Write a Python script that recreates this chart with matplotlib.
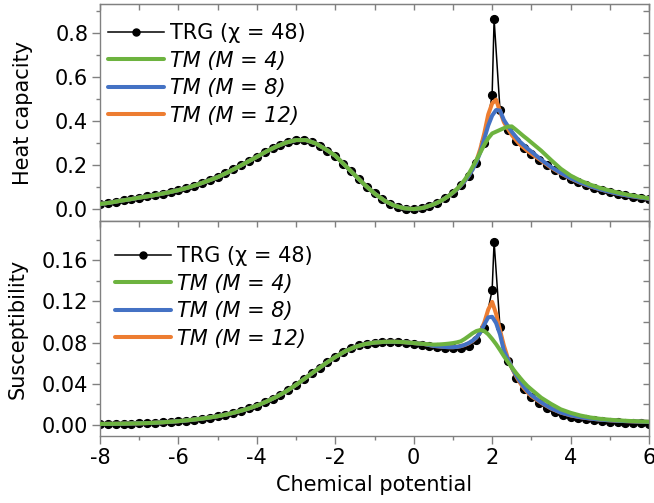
import matplotlib

matplotlib.use("Agg")
import matplotlib.pyplot as plt
from matplotlib.ticker import MultipleLocator, FormatStrFormatter

# TRG (chi = 48) samples
TRG_X = [
    -8.0, -7.8, -7.6, -7.4, -7.2, -7.0, -6.8, -6.6, -6.4, -6.2,
    -6.0, -5.8, -5.6, -5.4, -5.2, -5.0, -4.8, -4.6, -4.4, -4.2,
    -4.0, -3.8, -3.6, -3.4, -3.2, -3.0, -2.8, -2.6, -2.4, -2.2,
    -2.0, -1.8, -1.6, -1.4, -1.2, -1.0, -0.8, -0.6, -0.4, -0.2,
    0.0, 0.2, 0.4, 0.6, 0.8, 1.0, 1.2, 1.4, 1.6, 1.8,
    2.0, 2.05, 2.2, 2.4, 2.6, 2.8, 3.0, 3.2, 3.4, 3.6,
    3.8, 4.0, 4.2, 4.4, 4.6, 4.8, 5.0, 5.2, 5.4, 5.6,
    5.8, 6.0,
]
TRG_HEAT = [
    0.024, 0.029, 0.035, 0.041, 0.047, 0.053, 0.059, 0.065, 0.071, 0.078,
    0.087, 0.096, 0.107, 0.119, 0.132, 0.146, 0.163, 0.181, 0.200, 0.219,
    0.238, 0.258, 0.277, 0.293, 0.306, 0.314, 0.314, 0.305, 0.288, 0.266,
    0.242, 0.207, 0.172, 0.137, 0.103, 0.072, 0.045, 0.024, 0.010, 0.003,
    0.001, 0.005, 0.015, 0.030, 0.050, 0.075, 0.108, 0.150, 0.210, 0.300,
    0.520, 0.862, 0.452, 0.360, 0.312, 0.280, 0.252, 0.225, 0.200, 0.177,
    0.157, 0.139, 0.124, 0.110, 0.098, 0.088, 0.079, 0.071, 0.064, 0.058,
    0.053, 0.048,
]
TRG_SUSC = [
    0.0008, 0.0009, 0.0010, 0.0011, 0.0013, 0.0015, 0.0018, 0.0021, 0.0025, 0.0030,
    0.0036, 0.0043, 0.0051, 0.0061, 0.0072, 0.0085, 0.0100, 0.0118, 0.0138, 0.0161,
    0.0188, 0.0220, 0.0255, 0.0294, 0.0340, 0.0390, 0.0445, 0.0500, 0.0556, 0.0610,
    0.0660, 0.0710, 0.0745, 0.0772, 0.0790, 0.0800, 0.0806, 0.0808, 0.0806, 0.0800,
    0.0790, 0.0780, 0.0770, 0.0760, 0.0752, 0.0745, 0.0748, 0.0770, 0.0822, 0.0938,
    0.1310, 0.1780, 0.0950, 0.0620, 0.0460, 0.0350, 0.0270, 0.0210, 0.0165, 0.0128,
    0.0101, 0.0082, 0.0067, 0.0055, 0.0045, 0.0037, 0.0030, 0.0025, 0.0021, 0.0018,
    0.0015, 0.0013,
]

# TM curves: left part is common to all M, middle and right differ
TM_X_LEFT = [
    -8.0, -7.75, -7.5, -7.25, -7.0, -6.75, -6.5, -6.25, -6.0, -5.75,
    -5.5, -5.25, -5.0, -4.75, -4.5, -4.25, -4.0, -3.75, -3.5, -3.25,
    -3.0, -2.75, -2.5, -2.25, -2.0, -1.75, -1.5, -1.25, -1.0, -0.75,
    -0.5, -0.25, 0.0, 0.25,
]
TM_X_MID = [
    0.5, 0.6, 0.7, 0.8, 0.9, 1.0, 1.1, 1.2, 1.3, 1.4,
    1.5, 1.6, 1.7, 1.8, 1.9, 2.0, 2.1, 2.2, 2.3, 2.4,
    2.5, 2.6, 2.7, 2.8, 2.9, 3.0,
]
TM_X_RIGHT = [3.25, 3.5, 3.75, 4.0, 4.25, 4.5, 4.75, 5.0, 5.25, 5.5, 5.75, 6.0]

HEAT_LEFT = [
    0.024, 0.030, 0.038, 0.045, 0.053, 0.060, 0.068, 0.077, 0.087, 0.099,
    0.113, 0.129, 0.146, 0.167, 0.190, 0.214, 0.238, 0.263, 0.285, 0.303,
    0.314, 0.314, 0.299, 0.273, 0.243, 0.199, 0.155, 0.111, 0.072, 0.040,
    0.017, 0.005, 0.001, 0.007,
]
HEAT_MID_M4 = [
    0.022, 0.030, 0.039, 0.050, 0.062, 0.076, 0.092, 0.111, 0.134, 0.160,
    0.192, 0.224, 0.258, 0.292, 0.322, 0.344, 0.352, 0.360, 0.368, 0.375,
    0.376, 0.362, 0.347, 0.332, 0.318, 0.303,
]
HEAT_MID_M8 = [
    0.022, 0.030, 0.039, 0.050, 0.062, 0.075, 0.090, 0.108, 0.128, 0.152,
    0.180, 0.214, 0.260, 0.320, 0.380, 0.425, 0.450, 0.448, 0.405, 0.378,
    0.352, 0.330, 0.308, 0.292, 0.276, 0.262,
]
HEAT_MID_M12 = [
    0.022, 0.030, 0.039, 0.050, 0.062, 0.075, 0.090, 0.108, 0.128, 0.152,
    0.182, 0.220, 0.275, 0.345, 0.430, 0.480, 0.497, 0.445, 0.395, 0.365,
    0.337, 0.315, 0.295, 0.280, 0.265, 0.252,
]
HEAT_RIGHT_M4 = [0.266, 0.224, 0.184, 0.153, 0.130, 0.112, 0.097, 0.085, 0.074, 0.065, 0.057, 0.050]
HEAT_RIGHT_M8 = [0.225, 0.192, 0.165, 0.141, 0.121, 0.105, 0.091, 0.079, 0.069, 0.061, 0.054, 0.048]
HEAT_RIGHT_M12 = [0.221, 0.189, 0.163, 0.140, 0.120, 0.104, 0.091, 0.079, 0.069, 0.061, 0.054, 0.048]

SUSC_LEFT = [
    0.0010, 0.0011, 0.0012, 0.0014, 0.0016, 0.0019, 0.0024, 0.0030, 0.0037, 0.0046,
    0.0057, 0.0070, 0.0085, 0.0104, 0.0128, 0.0155, 0.0188, 0.0228, 0.0274, 0.0327,
    0.0390, 0.0459, 0.0528, 0.0597, 0.0660, 0.0715, 0.0757, 0.0785, 0.0800, 0.0807,
    0.0808, 0.0804, 0.0795, 0.0787,
]
SUSC_MID_M4 = [
    0.0780, 0.0781, 0.0783, 0.0786, 0.0790, 0.0795, 0.0802, 0.0812, 0.0835, 0.0862,
    0.0890, 0.0912, 0.0922, 0.0912, 0.0880, 0.0835, 0.0785, 0.0728, 0.0668, 0.0612,
    0.0560, 0.0510, 0.0463, 0.0418, 0.0378, 0.0345,
]
SUSC_MID_M8 = [
    0.0768, 0.0764, 0.0760, 0.0757, 0.0755, 0.0755, 0.0758, 0.0765, 0.0778, 0.0795,
    0.0818, 0.0850, 0.0900, 0.0975, 0.1045, 0.1050, 0.0990, 0.0880, 0.0720, 0.0640,
    0.0560, 0.0490, 0.0430, 0.0375, 0.0330, 0.0290,
]
SUSC_MID_M12 = [
    0.0768, 0.0764, 0.0760, 0.0757, 0.0755, 0.0755, 0.0758, 0.0765, 0.0776, 0.0792,
    0.0815, 0.0848, 0.0905, 0.0995, 0.1120, 0.1195, 0.1080, 0.0920, 0.0770, 0.0650,
    0.0555, 0.0480, 0.0415, 0.0360, 0.0318, 0.0280,
]
SUSC_RIGHT_M4 = [0.0265, 0.0205, 0.0152, 0.0118, 0.0092, 0.0073, 0.0060, 0.0051, 0.0044, 0.0039, 0.0035, 0.0031]
SUSC_RIGHT_M8 = [0.0220, 0.0162, 0.0121, 0.0094, 0.0076, 0.0062, 0.0052, 0.0045, 0.0040, 0.0036, 0.0033, 0.0030]
SUSC_RIGHT_M12 = [0.0215, 0.0160, 0.0120, 0.0093, 0.0075, 0.0062, 0.0052, 0.0045, 0.0040, 0.0036, 0.0033, 0.0030]

GREEN = "#6DB33F"
BLUE = "#4472C4"
ORANGE = "#ED7D31"
FRAME = "#808080"

TM_X = TM_X_LEFT + TM_X_MID + TM_X_RIGHT
panels = [
    {
        "trg": TRG_HEAT,
        "tm": {
            12: HEAT_LEFT + HEAT_MID_M12 + HEAT_RIGHT_M12,
            8: HEAT_LEFT + HEAT_MID_M8 + HEAT_RIGHT_M8,
            4: HEAT_LEFT + HEAT_MID_M4 + HEAT_RIGHT_M4,
        },
        "ylabel": "Heat capacity",
        "ylabel_x": -0.122,
        "ylim": (-0.053, 0.931),
        "major": 0.2,
        "fmt": "%.1f",
        "legend_anchor": (0.0, 0.95),
    },
    {
        "trg": TRG_SUSC,
        "tm": {
            12: SUSC_LEFT + SUSC_MID_M12 + SUSC_RIGHT_M12,
            8: SUSC_LEFT + SUSC_MID_M8 + SUSC_RIGHT_M8,
            4: SUSC_LEFT + SUSC_MID_M4 + SUSC_RIGHT_M4,
        },
        "ylabel": "Susceptibility",
        "ylabel_x": -0.131,
        "ylim": (-0.0107, 0.198),
        "major": 0.04,
        "fmt": "%.2f",
        "legend_anchor": (0.013, 0.922),
    },
]
TM_COLORS = {4: GREEN, 8: BLUE, 12: ORANGE}

plt.rcParams.update(
    {
        "font.family": ["DejaVu Sans"],
        "axes.unicode_minus": False,
        "font.size": 15,
    }
)

fig = plt.figure(figsize=(6.54, 5.03), dpi=100)
ax_top = fig.add_axes([100 / 654, 1 - 221 / 503, 549 / 654, 217 / 503])
ax_bot = fig.add_axes([100 / 654, 1 - 436 / 503, 549 / 654, 215 / 503], sharex=ax_top)

for ax, panel in zip((ax_top, ax_bot), panels):
    (trg_line,) = ax.plot(
        TRG_X, panel["trg"], color="black", linewidth=1.1, marker="o",
        markersize=5.6, zorder=2,
    )
    tm_lines = {}
    for m in (12, 8, 4):
        (line,) = ax.plot(
            TM_X, panel["tm"][m], color=TM_COLORS[m], linewidth=2.9,
            solid_capstyle="round", zorder=3,
        )
        tm_lines[m] = line

    ax.set_xlim(-8, 6)
    ax.set_ylim(*panel["ylim"])
    ax.xaxis.set_major_locator(MultipleLocator(2))
    ax.xaxis.set_minor_locator(MultipleLocator(1))
    ax.yaxis.set_major_locator(MultipleLocator(panel["major"]))
    ax.yaxis.set_minor_locator(MultipleLocator(panel["major"] / 2))
    ax.yaxis.set_major_formatter(FormatStrFormatter(panel["fmt"]))
    ax.set_ylabel(panel["ylabel"], fontsize=15)
    ax.yaxis.set_label_coords(panel["ylabel_x"], 0.5)
    for spine in ax.spines.values():
        spine.set_color(FRAME)
        spine.set_linewidth(1.0)
    ax.tick_params(which="major", direction="out", length=6, width=1, color=FRAME,
                   labelsize=15, pad=2.5)
    ax.tick_params(which="minor", direction="out", length=3, width=1, color=FRAME)

    # mirrored ticks pointing inward on top and right
    sec_x = ax.secondary_xaxis("top")
    sec_x.xaxis.set_major_locator(MultipleLocator(2))
    sec_x.xaxis.set_minor_locator(MultipleLocator(1))
    sec_x.tick_params(which="both", direction="in", length=4, width=1, color=FRAME,
                      labeltop=False)
    sec_x.spines["top"].set_color(FRAME)
    sec_y = ax.secondary_yaxis("right")
    sec_y.yaxis.set_major_locator(MultipleLocator(panel["major"]))
    sec_y.yaxis.set_minor_locator(MultipleLocator(panel["major"] / 2))
    sec_y.tick_params(which="both", direction="in", length=4, width=1, color=FRAME,
                      labelright=False)
    sec_y.spines["right"].set_color(FRAME)

    leg = ax.legend(
        [trg_line, tm_lines[4], tm_lines[8], tm_lines[12]],
        ["TRG (χ = 48)", "TM (M = 4)", "TM (M = 8)", "TM (M = 12)"],
        loc="upper left",
        bbox_to_anchor=panel["legend_anchor"],
        frameon=False,
        fontsize=15,
        handlelength=2.65,
        handletextpad=0.3,
        labelspacing=0.36,
        borderaxespad=0.2,
        borderpad=0.2,
        markerscale=0.9,
    )
    for text in leg.get_texts()[1:]:
        text.set_fontstyle("italic")

ax_top.tick_params(axis="x", labelbottom=False)
ax_bot.set_xlabel("Chemical potential", fontsize=15, labelpad=5)

fig.savefig("out.png", dpi=100, facecolor="white")
